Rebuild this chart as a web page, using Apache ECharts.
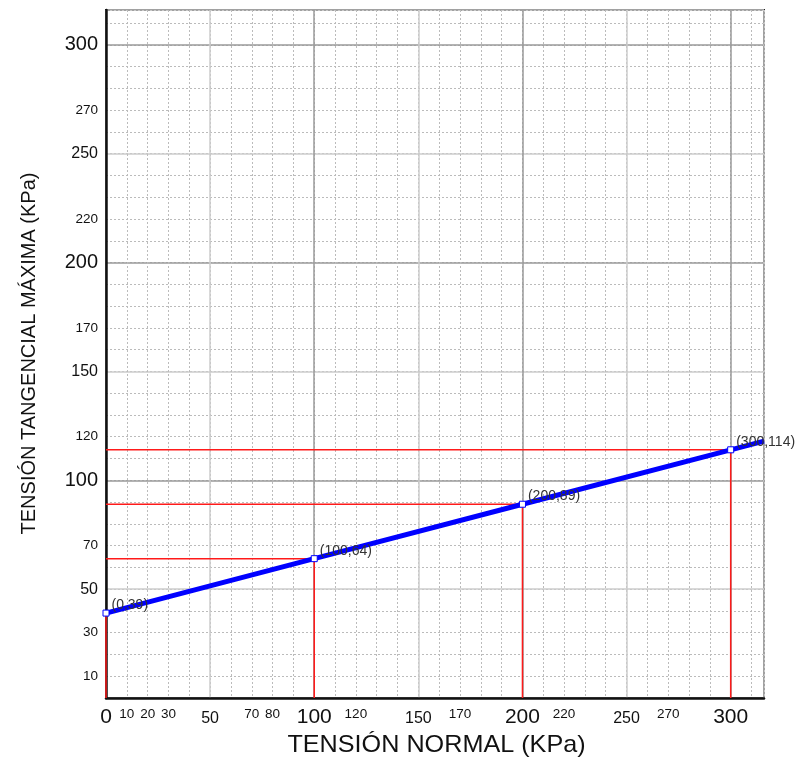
<!DOCTYPE html>
<html>
<head>
<meta charset="utf-8">
<script src="https://cdn.jsdelivr.net/npm/echarts@6/dist/echarts.min.js"></script>
<style>
  html, body { margin: 0; padding: 0; background: #fff; }
  #main { width: 798px; height: 758px; }
</style>
</head>
<body>
<div id="main"></div>
<script>
// datos
var tensionNormal = [0, 100, 200, 300];
var tensionTang = [39, 64, 89, 114];
var lineEnd = [316, 118]; // prolongacion de la recta hasta el borde
var bigTicks = [0, 100, 200, 300];
var midTicks = [50, 150, 250];
var smallTicksX = [10, 20, 30, 70, 80, 120, 170, 220, 270];
var smallTicksY = [10, 30, 70, 120, 170, 220, 270];
var axisMax = 316;

function labelFmt(small) {
  return function (v) {
    if (bigTicks.indexOf(v) >= 0) return '{big|' + v + '}';
    if (midTicks.indexOf(v) >= 0) return '{mid|' + v + '}';
    if (small.indexOf(v) >= 0) return '{sm|' + v + '}';
    return '';
  };
}
var richX = {
  big: { fontSize: 21, color: '#111' },
  mid: { fontSize: 16, color: '#111', padding: [4, 0, 0, 0] },
  sm: { fontSize: 13.5, color: '#111' }
};
var richY = {
  big: { fontSize: 20, color: '#111' },
  mid: { fontSize: 16, color: '#111' },
  sm: { fontSize: 13.5, color: '#111' }
};

var myChart = echarts.init(document.getElementById('main'));

var pts = tensionNormal.map(function (x, i) { return [x, tensionTang[i]]; });
var lineData = pts.concat([lineEnd]);

var series = [];
// lineas rojas de referencia
pts.forEach(function (p) {
  series.push({
    type: 'line',
    data: [[0, p[1]], [p[0], p[1]], [p[0], 0]],
    symbol: 'none',
    silent: true,
    lineStyle: { color: '#ff1a1a', width: 1.5 },
    z: 3
  });
});
series.push({
  type: 'line',
  data: lineData.map(function (p, i) {
    if (i < pts.length) {
      return {
        value: p,
        symbol: 'rect',
        symbolSize: 6,
        label: {
          show: true,
          formatter: '(' + p[0] + ',' + p[1] + ')',
          position: 'right',
          distance: 2,
          offset: [0, -8],
          fontSize: 14,
          color: '#333',
          fontFamily: 'Liberation Sans'
        }
      };
    }
    return { value: p, symbol: 'none' };
  }),
  lineStyle: { color: '#0000ff', width: 5 },
  itemStyle: { color: '#fff', borderColor: '#0000ff', borderWidth: 1 },
  z: 5
});

var option = {
  animation: false,
  textStyle: { fontFamily: 'Liberation Sans' },
  grid: {
    left: 106, right: 34, top: 10, bottom: 60,
    show: true, borderColor: '#222', borderWidth: 2, backgroundColor: '#fff'
  },
  // titulos de ejes
  graphic: [{
    type: 'text', x: 436.5, y: 745, scaleX: 1.05,
    style: { text: 'TENSIÓN NORMAL (KPa)', font: '24px "Liberation Sans"', fill: '#111', align: 'center', verticalAlign: 'middle' }
  }, {
    type: 'text', x: 29, y: 353.5, rotation: Math.PI / 2,
    style: { text: 'TENSIÓN TANGENCIAL MÁXIMA (KPa)', font: '20px "Liberation Sans"', fill: '#111', align: 'center', verticalAlign: 'middle' }
  }],
  xAxis: [{
    type: 'value', min: 0, max: axisMax, interval: 10,
    axisLine: { show: true, lineStyle: { color: '#111', width: 2.5 } },
    axisTick: { show: false },
    axisLabel: { formatter: labelFmt(smallTicksX), rich: richX, margin: 9, verticalAlign: 'top', hideOverlap: false, showMaxLabel: true, showMinLabel: true },
    splitLine: { show: true, lineStyle: { color: '#bbb', type: [2, 2], width: 1 } }
  }, {
    type: 'value', min: 0, max: axisMax, interval: 50, position: 'top',
    axisLine: { show: false }, axisTick: { show: false }, axisLabel: { show: false },
    splitLine: { show: true, lineStyle: { color: ['#9a9a9a', '#cccccc'], width: 1.5 } }
  }],
  yAxis: [{
    type: 'value', min: 0, max: axisMax, interval: 10,
    axisLine: { show: true, lineStyle: { color: '#111', width: 2.5 } },
    axisTick: { show: false },
    axisLabel: { formatter: labelFmt(smallTicksY), rich: richY, margin: 8, hideOverlap: false, showMaxLabel: true, showMinLabel: false },
    splitLine: { show: true, lineStyle: { color: '#bbb', type: [2, 2], width: 1 } }
  }, {
    type: 'value', min: 0, max: axisMax, interval: 50, position: 'right',
    axisLine: { show: false }, axisTick: { show: false }, axisLabel: { show: false },
    splitLine: { show: true, lineStyle: { color: ['#9a9a9a', '#cccccc'], width: 1.5 } }
  }],
  series: series
};

myChart.setOption(option);
</script>
</body>
</html>
